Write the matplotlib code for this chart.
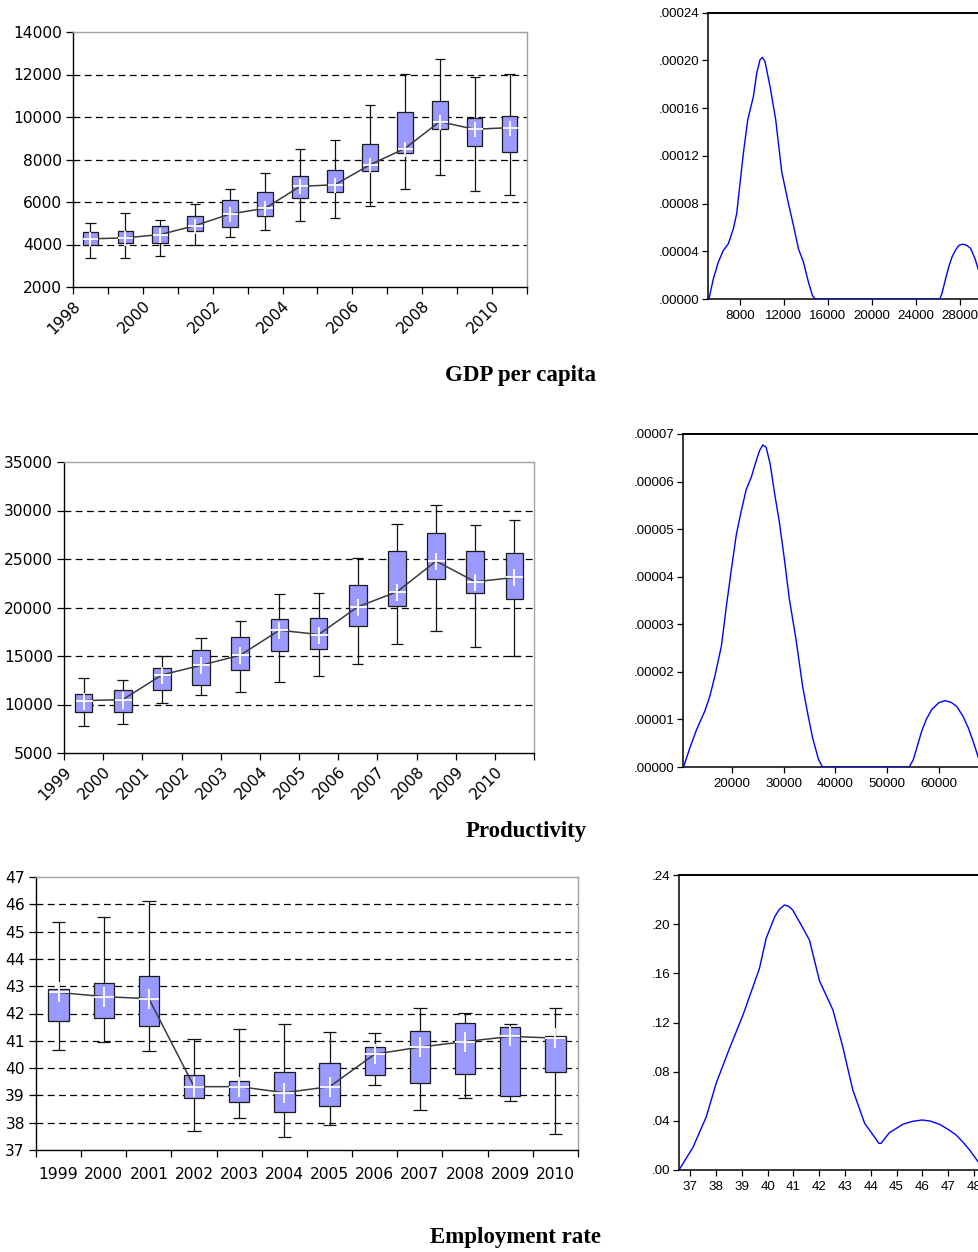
import numpy as np
import matplotlib
matplotlib.use("Agg")
import matplotlib.pyplot as plt

# ------------------------------------------------------------------ data
gdp_years = ["1998", "1999", "2000", "2001", "2002", "2003", "2004",
             "2005", "2006", "2007", "2008", "2009", "2010"]
gdp_whisker_high = [5016, 5469, 5172, 5891, 6609, 7344, 8484, 8922, 10578, 12016, 12734, 11875, 12016]
gdp_box_high = [4578, 4656, 4859, 5359, 6078, 6453, 7234, 7516, 8750, 10250, 10766, 9969, 10047]
gdp_box_low = [4000, 4063, 4063, 4625, 4844, 5359, 6172, 6453, 7437, 8328, 9453, 8625, 8375]
gdp_whisker_low = [3375, 3375, 3453, 4000, 4375, 4672, 5109, 5250, 5812, 6609, 7266, 6531, 6328]
gdp_mean = [4266, 4313, 4469, 4891, 5437, 5703, 6734, 6812, 7750, 8516, 9781, 9422, 9500]
gdp_tick_labels = ["1998", "2000", "2002", "2004", "2006", "2008", "2010"]
gdp_yticks = [2000, 4000, 6000, 8000, 10000, 12000, 14000]

prod_years = ["1999", "2000", "2001", "2002", "2003", "2004",
              "2005", "2006", "2007", "2008", "2009", "2010"]
prod_whisker_high = [12741, 12500, 14977, 16835, 18589, 21342, 21479, 25126, 28635, 30528, 28498, 29048]
prod_box_high = [11089, 11537, 13739, 15596, 16938, 18830, 18933, 22305, 25814, 27672, 25814, 25642]
prod_box_low = [9197, 9197, 11537, 11984, 13601, 15493, 15768, 18108, 20172, 22890, 21445, 20894]
prod_whisker_low = [7821, 7993, 10161, 10986, 11296, 12328, 12913, 14220, 16250, 17557, 15975, 15046]
prod_mean = [10401, 10505, 13050, 14048, 15080, 17660, 17213, 20069, 21617, 24782, 22649, 23097]
prod_yticks = [5000, 10000, 15000, 20000, 25000, 30000, 35000]

emp_years = ["1999", "2000", "2001", "2002", "2003", "2004",
             "2005", "2006", "2007", "2008", "2009", "2010"]
emp_whisker_high = [45.36, 45.53, 46.11, 41.08, 41.44, 41.62, 41.33, 41.28, 42.20, 42.01, 41.61, 42.20]
emp_box_high = [42.88, 43.11, 43.36, 39.73, 39.51, 39.85, 40.20, 40.79, 41.36, 41.65, 41.49, 41.19]
emp_box_low = [41.72, 41.83, 41.55, 38.91, 38.74, 38.38, 38.61, 39.73, 39.45, 39.78, 38.98, 39.85]
emp_whisker_low = [40.68, 40.97, 40.62, 37.70, 38.16, 37.46, 37.92, 39.38, 38.47, 38.92, 38.81, 37.59]
emp_mean = [42.77, 42.62, 42.54, 39.32, 39.32, 39.10, 39.32, 40.51, 40.77, 40.97, 41.16, 41.10]
emp_yticks = [37, 38, 39, 40, 41, 42, 43, 44, 45, 46, 47]

# kernel density curves
gdp_dens_x = [5171, 5567, 6023, 6479, 6935, 7392, 7696, 8000, 8304, 8700, 9217, 9521, 9825,
              10038, 10281, 10738, 11255, 11802, 12411, 12867, 13323, 13779, 14236, 14601,
              14844, 26200, 26400, 26700, 27020, 27300, 27630, 27950, 28300, 28650, 29000,
              29400, 29820, 30100, 30400]
gdp_dens_y = [0, 1.68e-5, 3.09e-5, 4.07e-5, 4.63e-5, 5.89e-5, 7.15e-5, 9.68e-5, 1.22e-4,
              1.50e-4, 1.697e-4, 1.893e-4, 2.006e-4, 2.025e-4, 1.99e-4, 1.78e-4, 1.50e-4,
              1.066e-4, 8.0e-5, 6.17e-5, 4.21e-5, 3.09e-5, 1.40e-5, 0.28e-5, 0,
              0, 0.47e-5, 1.6e-5, 2.7e-5, 3.5e-5, 4.1e-5, 4.5e-5, 4.6e-5, 4.5e-5, 4.25e-5,
              3.4e-5, 2.15e-5, 1.2e-5, 0]
gdp_dens_xticks = [8000, 12000, 16000, 20000, 24000, 28000]
gdp_dens_yticks = [0, 4e-5, 8e-5, 12e-5, 16e-5, 20e-5, 24e-5]
gdp_dens_ylabels = [".00000", ".00004", ".00008", ".00012", ".00016", ".00020", ".00024"]

prod_dens_x = [10600, 11859, 13141, 14744, 15705, 16667, 17949, 18910, 19872, 20833, 21795,
               22756, 23718, 24679, 25321, 25962, 26603, 27372, 28205, 29167, 30128, 31090,
               32372, 33654, 34615, 35577, 36731, 37512, 54313, 55088, 55900, 56704, 57600,
               58642, 60000, 61227, 62400, 63489, 64700, 65750, 66800, 67818, 68200]
prod_dens_y = [0, 0.41e-5, 0.79e-5, 1.18e-5, 1.49e-5, 1.91e-5, 2.55e-5, 3.39e-5, 4.16e-5,
               4.89e-5, 5.39e-5, 5.84e-5, 6.09e-5, 6.44e-5, 6.65e-5, 6.77e-5, 6.72e-5,
               6.37e-5, 5.77e-5, 5.14e-5, 4.37e-5, 3.53e-5, 2.69e-5, 1.70e-5, 1.14e-5,
               0.62e-5, 0.16e-5, 0, 0, 0.154e-5, 0.45e-5, 0.75e-5, 1.0e-5, 1.205e-5,
               1.35e-5, 1.395e-5, 1.36e-5, 1.275e-5, 1.07e-5, 0.82e-5, 0.5e-5, 0.154e-5, 0]
prod_dens_xticks = [20000, 30000, 40000, 50000, 60000]
prod_dens_yticks = [0, 1e-5, 2e-5, 3e-5, 4e-5, 5e-5, 6e-5, 7e-5]
prod_dens_ylabels = [".00000", ".00001", ".00002", ".00003", ".00004", ".00005", ".00006", ".00007"]

emp_dens_x = [36.56, 37.10, 37.62, 38.00, 38.52, 39.04, 39.36, 39.68, 39.94, 40.27, 40.45,
              40.65, 40.82, 40.97, 41.30, 41.62, 42.01, 42.53, 42.91, 43.30, 43.76, 44.02,
              44.31, 44.40, 44.72, 45.00, 45.24, 45.60, 45.99, 46.30, 46.66, 47.00, 47.31,
              47.60, 47.83, 48.18, 48.40]
emp_dens_y = [0, 0.0184, 0.0434, 0.0705, 0.099, 0.126, 0.145, 0.164, 0.1885, 0.206, 0.212,
              0.2156, 0.2145, 0.2115, 0.1993, 0.187, 0.1538, 0.1302, 0.1003, 0.0651, 0.038,
              0.0304, 0.0217, 0.0217, 0.0304, 0.034, 0.0372, 0.0395, 0.0407, 0.0398, 0.0372,
              0.033, 0.0285, 0.022, 0.0163, 0.0062, 0]
emp_dens_xticks = [37, 38, 39, 40, 41, 42, 43, 44, 45, 46, 47, 48]
emp_dens_yticks = [0, 0.04, 0.08, 0.12, 0.16, 0.20, 0.24]
emp_dens_ylabels = [".00", ".04", ".08", ".12", ".16", ".20", ".24"]

titles = ["GDP per capita", "Productivity", "Employment rate"]

# ------------------------------------------------------------------ layout
W, H, DPI = 979, 1252, 100
fig = plt.figure(figsize=(W / DPI, H / DPI), dpi=DPI)
fig.patch.set_facecolor("white")

BOXFONT = dict(family="DejaVu Sans", size=11.2)
DFONT = dict(family="Liberation Sans", size=9.6)


def add_ax(left, top, right, bottom):
    return fig.add_axes([left / W, 1 - bottom / H, (right - left) / W, (bottom - top) / H])


def box_panel(ax, wlo, blo, bhi, whi, mean, yticks, box_px):
    n = len(mean)
    x = np.arange(n) + 0.5
    bw = 0.45
    cw = bw * 0.65
    ax.set_xlim(0, n)
    ax.set_ylim(yticks[0], yticks[-1])
    for yv in yticks[1:-1]:
        ax.axhline(yv, color="black", lw=0.9, ls=(0, (5.5, 3.5)), zorder=1)
    ax.vlines(x, wlo, whi, color="#111111", lw=0.9, zorder=2)
    ax.hlines(wlo, x - cw / 2, x + cw / 2, color="#111111", lw=0.9, zorder=2)
    ax.hlines(whi, x - cw / 2, x + cw / 2, color="#111111", lw=0.9, zorder=2)
    ax.bar(x, np.array(bhi) - np.array(blo), bottom=blo, width=bw,
           color="#9999FF", edgecolor="#1a1a1a", lw=0.9, zorder=3)
    ax.plot(x, mean, color="#3a3a3a", lw=1.1, zorder=4)
    ms = box_px * 72 / DPI
    ax.plot(x, mean, ls="none", marker="+", ms=ms, mew=1.3, color="white", zorder=5)
    for s in ["top", "right"]:
        ax.spines[s].set_color("#a0a0a0")
        ax.spines[s].set_linewidth(1.0)
    for s in ["left", "bottom"]:
        ax.spines[s].set_color("black")
        ax.spines[s].set_linewidth(1.0)
    ax.set_yticks(yticks)
    ax.set_yticklabels([str(v) for v in yticks], fontdict=BOXFONT)
    ax.tick_params(axis="y", direction="out", length=5, width=0.9, pad=3)
    ax.set_xticks(np.arange(n + 1))
    ax.tick_params(axis="x", direction="out", length=5, width=0.9, pad=3)


# ---- Panel 1: GDP per capita
ax1 = add_ax(73, 32, 527, 287)
box_panel(ax1, gdp_whisker_low, gdp_box_low, gdp_box_high, gdp_whisker_high, gdp_mean,
          gdp_yticks, 15)
lab = []
k = 0
for i in range(len(gdp_years) + 1):
    if i % 2 == 0 and k < len(gdp_tick_labels):
        lab.append(gdp_tick_labels[k]); k += 1
    else:
        lab.append("")
ax1.set_xticklabels(lab, fontdict=BOXFONT, rotation=45, ha="right", va="top",
                    rotation_mode="anchor")

# ---- Panel 2: Productivity
ax2 = add_ax(64, 462, 534, 753)
box_panel(ax2, prod_whisker_low, prod_box_low, prod_box_high, prod_whisker_high, prod_mean,
          prod_yticks, 17)
ax2.set_xticklabels(prod_years + [""], fontdict=BOXFONT, rotation=45, ha="right", va="top",
                    rotation_mode="anchor")

# ---- Panel 3: Employment rate
ax3 = add_ax(36, 877, 578, 1150)
box_panel(ax3, emp_whisker_low, emp_box_low, emp_box_high, emp_whisker_high, emp_mean,
          emp_yticks, 20)
ax3.set_xticklabels([""] * (len(emp_years) + 1))
ax3.set_xticks(np.arange(len(emp_years)) + 0.5, minor=True)
ax3.set_xticklabels(emp_years, minor=True, fontdict=BOXFONT)
ax3.tick_params(axis="x", which="minor", length=0, pad=12)


# ---- density panels
def dens_panel(ax, xs, ys, xlim, xticks, yticks, ylabels):
    ax.plot(xs, ys, color="#0000FF", lw=1.0, zorder=3, solid_joinstyle="round")
    ax.set_xlim(*xlim)
    ax.set_ylim(yticks[0], yticks[-1])
    ax.set_yticks(yticks)
    ax.set_yticklabels(ylabels, fontdict=DFONT)
    ax.set_xticks(xticks)
    ax.set_xticklabels([str(v) for v in xticks], fontdict=DFONT)
    ax.tick_params(axis="both", direction="out", length=4, width=0.9, pad=2)
    ax.tick_params(axis="x", pad=4)
    for s in ["left", "bottom", "top"]:
        ax.spines[s].set_color("black")
        ax.spines[s].set_linewidth(1.1)
    ax.spines["top"].set_linewidth(1.4)
    ax.spines["right"].set_visible(False)


d1 = add_ax(708, 12.7, 987, 299)
dens_panel(d1, gdp_dens_x, gdp_dens_y, (5084, 30500), gdp_dens_xticks, gdp_dens_yticks,
           gdp_dens_ylabels)
d2 = add_ax(683, 434, 981, 767)
dens_panel(d2, prod_dens_x, prod_dens_y, (10500, 68200), prod_dens_xticks, prod_dens_yticks,
           prod_dens_ylabels)
d3 = add_ax(679, 875, 983, 1170)
dens_panel(d3, emp_dens_x, emp_dens_y, (36.56, 48.35), emp_dens_xticks, emp_dens_yticks,
           emp_dens_ylabels)

# ---- titles
TFONT = dict(family="Liberation Serif", weight="bold", size=16.5)
for (xc, yc), t in zip([(521, 375), (526, 831), (515, 1237)], titles):
    fig.text(xc / W, 1 - yc / H, t, ha="center", va="center", **TFONT)

fig.savefig("out.png", dpi=DPI)
